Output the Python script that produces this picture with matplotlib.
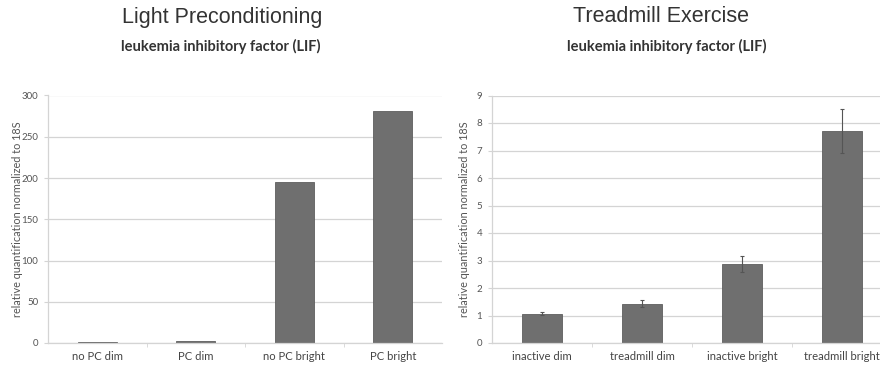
import matplotlib
matplotlib.use("Agg")
import matplotlib.pyplot as plt
import numpy as np

# Light preconditioning panel
light_categories = ["no PC dim", "PC dim", "no PC bright", "PC bright"]
light_values = [1, 2, 195, 281]
light_ticks = [0, 50, 100, 150, 200, 250, 300]

# Treadmill exercise panel
tread_categories = ["inactive dim", "treadmill dim", "inactive bright", "treadmill bright"]
tread_values = [1.07, 1.43, 2.87, 7.7]
tread_errors = [0.06, 0.13, 0.29, 0.8]
tread_ticks = [0, 1, 2, 3, 4, 5, 6, 7, 8, 9]

BAR_COLOR = "#6f6f6f"
GRID_COLOR = "#d4d4d4"
TEXT_COLOR = "#555555"
TICK_FONT = "Lato"
TITLE_FONT = "Liberation Sans"
YLABEL = "relative quantification normalized to 18S"

fig = plt.figure(figsize=(8.8, 3.72), dpi=100)

def style_axis(ax, cats, ticks, label_x):
    ax.set_xlim(-0.5, len(cats) - 0.5)
    ax.set_ylim(ticks[0], ticks[-1])
    ax.set_yticks(ticks)
    ax.set_yticklabels([str(t) for t in ticks], fontsize=7, color=TEXT_COLOR,
                       family=TICK_FONT)
    ax.set_xticks(range(len(cats)))
    ax.set_xticklabels(cats, fontsize=8.1, color="#444444", family=TICK_FONT)
    ax.tick_params(axis="x", length=0, pad=6)
    ax.tick_params(axis="y", length=3, color=GRID_COLOR, pad=4)
    # small separators between categories on the baseline
    ax.set_xticks(np.arange(0.5, len(cats) - 0.5, 1.0), minor=True)
    ax.tick_params(axis="x", which="minor", length=3, color=GRID_COLOR, direction="out")
    ax.grid(axis="y", color=GRID_COLOR, linewidth=0.9)
    ax.set_axisbelow(True)
    for s in ("top", "right"):
        ax.spines[s].set_visible(False)
    for s in ("left", "bottom"):
        ax.spines[s].set_color(GRID_COLOR)
        ax.spines[s].set_linewidth(0.9)
    ax.set_ylabel(YLABEL, fontsize=7.8, color=TEXT_COLOR, family=TICK_FONT)
    ax.yaxis.set_label_coords(label_x, 0.5)

ax1 = fig.add_axes([48 / 880, 29 / 372, 394 / 880, 247.5 / 372])
ax1.bar(range(len(light_categories)), light_values, width=0.4, color=BAR_COLOR,
        edgecolor="#5e5e5e", linewidth=0.6)
style_axis(ax1, light_categories, light_ticks, -25 / 394)

ax2 = fig.add_axes([492 / 880, 29 / 372, 400 / 880, 247.5 / 372])
ax2.bar(range(len(tread_categories)), tread_values, width=0.4, color=BAR_COLOR,
        edgecolor="#5e5e5e", linewidth=0.6,
        yerr=tread_errors, ecolor="#555555",
        error_kw=dict(elinewidth=0.8, capsize=1.2, capthick=0.8))
style_axis(ax2, tread_categories, tread_ticks, -22 / 400)

# Panel headings
fig.text(222 / 880, 1 - 17 / 372, "Light Preconditioning", ha="center", va="center",
         fontsize=15.5, color="#333333", family=TITLE_FONT)
fig.text(221 / 880, 1 - 46 / 372, "leukemia inhibitory factor (LIF)", ha="center",
         va="center", fontsize=10.5, fontweight="bold", color="#333333", family=TICK_FONT)
fig.text(661 / 880, 1 - 17 / 372, "Treadmill Exercise", ha="center", va="center",
         fontsize=15.5, color="#333333", family=TITLE_FONT)
fig.text(667 / 880, 1 - 46 / 372, "leukemia inhibitory factor (LIF)", ha="center",
         va="center", fontsize=10.5, fontweight="bold", color="#333333", family=TICK_FONT)

fig.savefig("out.png", dpi=100)
